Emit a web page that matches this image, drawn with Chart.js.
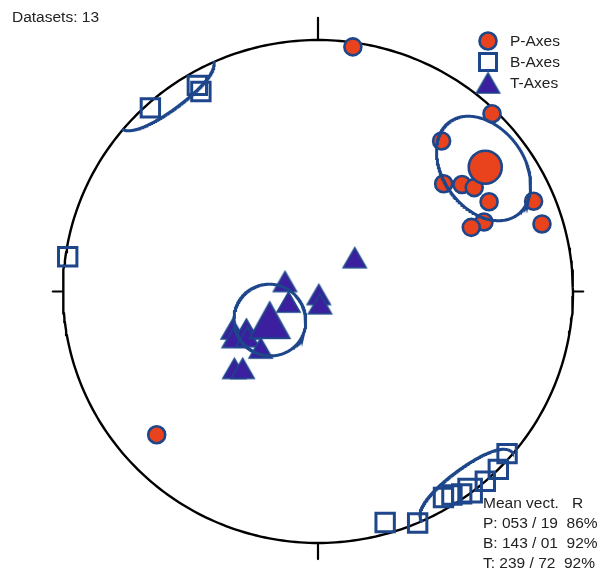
<!DOCTYPE html>
<html><head><meta charset="utf-8">
<script src="https://cdn.jsdelivr.net/npm/chart.js@4/dist/chart.umd.min.js"></script>
<style>html,body{margin:0;padding:0;background:#fff}#wrap{width:601px;height:573px}</style>
</head><body><div id="wrap"><canvas id="c" width="601" height="573"></canvas></div>
<script>
// ---- data (trend / plunge in degrees, lower-hemisphere equal-area) ----
const pTrend  = [8, 44, 39, 49, 53, 56, 62, 67, 67, 67, 73, 228];
const pPlunge = [2, 2, 24, 35, 30, 27, 25, 9, 30, 35, 9, 16];
const bTrend  = [318, 330, 330, 278, 131, 135, 139, 145, 147, 149, 157, 164];
const bPlunge = [2, 6, 9, 1, 2, 0, 0, 2, 4, 5, 0, 5];
const tTrend  = [47, 287, 250, 166, 171, 246, 242, 241, 237, 225, 227, 224];
const tPlunge = [74, 79, 80, 89, 86, 60, 64, 59, 63, 64, 53, 55];
const axisNames  = ['P-Axes', 'B-Axes', 'T-Axes'];
const meanLabels = ['P', 'B', 'T'];
const meanTrend  = [53, 143, 239];
const meanPlunge = [19, 1, 72];
const meanR      = [86, 92, 92];
// confidence cones (semi-angle along strike, along dip, rotation), degrees
const coneA   = [15, 13, 11.5];
const coneB   = [16, 10, 11.5];
const coneRot = [-12, 0, 0];
const datasetCount = 13;

// ---- styling ----
const NAVY = '#1d468b', RED = '#e8431d', PURPLE = '#3b1f9e', TXT = '#222';
const D = Math.PI / 180;

function proj(tr, pl) {
  const t = tr * D, p = pl * D;
  let e = Math.cos(p) * Math.sin(t), n = Math.cos(p) * Math.cos(t), d = Math.sin(p);
  if (d < 0) { e = -e; n = -n; d = -d; }
  const k = 1 / Math.sqrt(1 + d);
  return { x: e * k, y: n * k };
}
function vecProj(v) {
  let [e, n, d] = v;
  if (d < 0) { e = -e; n = -n; d = -d; }
  const k = 1 / Math.sqrt(1 + d);
  return { x: e * k, y: n * k };
}
function coneSegments(tr, pl, a, b, rot) {
  const t = tr * D, p = pl * D, r = rot * D, A = a * D, B = b * D;
  const m = [Math.cos(p) * Math.sin(t), Math.cos(p) * Math.cos(t), Math.sin(p)];
  const u = [Math.cos(t), -Math.sin(t), 0];
  const v = [-Math.sin(p) * Math.sin(t), -Math.sin(p) * Math.cos(t), Math.cos(p)];
  const u2 = u.map((x, i) => Math.cos(r) * x + Math.sin(r) * v[i]);
  const v2 = u.map((x, i) => -Math.sin(r) * x + Math.cos(r) * v[i]);
  const segs = []; let cur = []; let prev = null;
  for (let i = 0; i <= 360; i += 1) {
    const f = i * D;
    const rho = A * B / Math.sqrt(Math.pow(B * Math.cos(f), 2) + Math.pow(A * Math.sin(f), 2));
    const dir = m.map((x, k) => Math.cos(rho) * x + Math.sin(rho) * (Math.cos(f) * u2[k] + Math.sin(f) * v2[k]));
    const s = dir[2] >= 0;
    if (prev !== null && s !== prev) { if (cur.length) segs.push(cur); cur = []; }
    cur.push(vecProj(dir)); prev = s;
  }
  if (cur.length) segs.push(cur);
  if (segs.length > 2) { const last = segs.pop(); segs[0] = last.concat(segs[0]); }
  return segs;
}
// triangle glyph centred on its bounding box
function triGlyph(w, h, lw) {
  const c = document.createElement('canvas');
  const pad = Math.ceil(lw) + 1;
  c.width = Math.ceil(w + 2 * pad); c.height = Math.ceil(h + 2 * pad);
  const g = c.getContext('2d');
  const cx = c.width / 2, cy = c.height / 2;
  g.beginPath();
  g.moveTo(cx, cy - h / 2); g.lineTo(cx + w / 2, cy + h / 2); g.lineTo(cx - w / 2, cy + h / 2); g.closePath();
  g.fillStyle = PURPLE; g.fill();
  g.lineWidth = lw; g.strokeStyle = NAVY; g.lineJoin = 'miter'; g.stroke();
  return c;
}

const pts = (T, P) => T.map((t, i) => proj(t, P[i]));
const primitive = [];
for (let i = 0; i <= 360; i++) primitive.push({ x: Math.sin(i * D), y: Math.cos(i * D) });
const tickDefs = [[0, 1, 0, 1.088], [0, -1, 0, -1.064], [-1, 0, -1.04, 0], [1, 0, 1.04, 0]];

const lineDs = (data, color, w, order) => ({ data, showLine: true, borderColor: color, borderWidth: w,
  pointRadius: 0, fill: false, tension: 0, clip: false, order });

const smallTri = triGlyph(23, 20, 1.6), bigTri = triGlyph(40, 36, 1.8);

const datasets = [];
datasets.push(lineDs(primitive, '#000', 2.4, 10));
tickDefs.forEach(tk => datasets.push(lineDs([{ x: tk[0], y: tk[1] }, { x: tk[2], y: tk[3] }], '#000', 2.2, 10)));
// markers
datasets.push({ data: pts(pTrend, pPlunge), pointStyle: 'circle', pointRadius: 8.5, borderWidth: 2.6,
  backgroundColor: RED, borderColor: NAVY, clip: false, order: 5 });
datasets.push({ data: pts(bTrend, bPlunge), pointStyle: 'rect', pointRadius: 13, borderWidth: 3,
  backgroundColor: 'rgba(0,0,0,0)', borderColor: NAVY, clip: false, order: 5 });
datasets.push({ data: pts(tTrend, tPlunge), pointStyle: smallTri, pointRadius: 12, clip: false, order: 5 });
// means
datasets.push({ data: [proj(meanTrend[0], meanPlunge[0])], pointStyle: 'circle', pointRadius: 16.5, borderWidth: 2.6,
  backgroundColor: RED, borderColor: NAVY, clip: false, order: 3 });
datasets.push({ data: [proj(meanTrend[1], meanPlunge[1])], pointStyle: 'rect', pointRadius: 16, borderWidth: 3,
  backgroundColor: 'rgba(0,0,0,0)', borderColor: NAVY, clip: false, order: 3 });
datasets.push({ data: [proj(meanTrend[2], meanPlunge[2])], pointStyle: bigTri, pointRadius: 20, clip: false, order: 3 });
// cones
meanTrend.forEach((t, i) => coneSegments(t, meanPlunge[i], coneA[i], coneB[i], coneRot[i])
  .forEach(seg => datasets.push(lineDs(seg, NAVY, 3, 1))));

const textPlugin = {
  id: 'texts',
  afterDraw(chart) {
    const ctx = chart.ctx;
    ctx.save();
    ctx.fillStyle = TXT; ctx.textBaseline = 'middle'; ctx.textAlign = 'left';
    ctx.font = '15.5px "Liberation Sans", Arial, sans-serif';
    ctx.fillText('Datasets: ' + datasetCount, 12, 18);
    // legend
    const lx = 488, ly = [41, 62, 83];
    axisNames.forEach((name, i) => {
      const y = ly[i];
      ctx.lineWidth = i === 1 ? 3 : 2.6;
      ctx.strokeStyle = NAVY;
      ctx.beginPath();
      if (i === 0) { ctx.arc(lx, y, 8.5, 0, 2 * Math.PI); ctx.fillStyle = RED; ctx.fill(); ctx.stroke(); }
      else if (i === 1) { ctx.rect(lx - 8.5, y - 8.5, 17, 17); ctx.stroke(); }
      else { ctx.drawImage(smallTri, lx - smallTri.width / 2, y - smallTri.height / 2); }
      ctx.fillStyle = TXT;
      ctx.fillText(name, 510, y + 1);
    });
    // mean vectors
    const pad = (n, w) => String(n).padStart(w, '0');
    ctx.fillText('Mean vect.', 483, 504);
    ctx.fillText('R', 572, 504);
    meanLabels.forEach((l, i) => {
      ctx.fillText(l + ': ' + pad(meanTrend[i], 3) + ' / ' + pad(meanPlunge[i], 2) + '  ' + meanR[i] + '%', 483, 524 + i * 20);
    });
    ctx.restore();
  }
};

new Chart(document.getElementById('c'), {
  type: 'scatter',
  data: { datasets },
  options: {
    responsive: false, animation: false, devicePixelRatio: 1,
    layout: { padding: { left: 63, right: 28, top: 40, bottom: 30 } },
    scales: {
      x: { type: 'linear', min: -1, max: 1, display: false },
      y: { type: 'linear', min: -1, max: 1, display: false }
    },
    plugins: { legend: { display: false }, tooltip: { enabled: false } },
    elements: { line: { borderCapStyle: 'round' } }
  },
  plugins: [textPlugin]
});
</script></body></html>
